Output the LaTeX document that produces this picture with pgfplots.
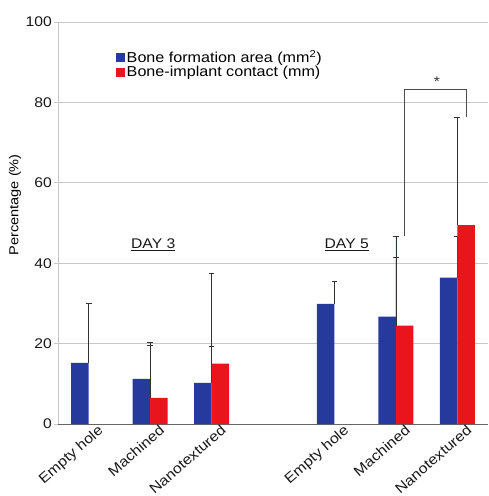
\documentclass[border=0pt]{standalone}
\usepackage{fontspec}
\setmainfont{Liberation Sans}[FakeStretch=1.12]
\usepackage{pgfplots}
\pgfplotsset{compat=1.18}
\definecolor{myblue}{RGB}{38,58,158}
\definecolor{myred}{RGB}{232,22,28}
\definecolor{gridc}{RGB}{200,200,200}
\begin{document}
\begin{tikzpicture}
\begin{axis}[
  scale only axis,
  width=430pt, height=402pt,
  xmin=-0.5, xmax=6.5, ymin=0, ymax=100,
  axis x line=bottom, axis y line=left,
  x axis line style={-, draw=gray!80!black, line width=0.8pt},
  y axis line style={-, draw=gridc, line width=0.8pt},
  xtick={0,1,2,4,5,6},
  xticklabels={Empty hole, Machined, Nanotextured, Empty hole, Machined, Nanotextured},
  xtick style={draw=none},
  ytick={0,20,40,60,80,100},
  ytick style={draw=gridc, line width=0.8pt},
  tick align=outside, major tick length=4pt,
  ymajorgrids, grid style={gridc, line width=0.8pt},
  /pgf/number format/assume math mode=true,
  tick label style={font=\fontsize{14}{16}\selectfont, text=black!90},
  xticklabel style={rotate=41, anchor=north east, inner sep=1pt, xshift=10pt, yshift=-1.5pt, font=\fontsize{14.2}{17}\selectfont},
  yticklabel style={inner sep=2pt},
  ylabel={Percentage (\%)},
  every axis y label/.style={at={(rel axis cs:0,0.545)}, xshift=-43pt, rotate=90, anchor=center, font=\fontsize{13}{15}\selectfont},
  legend style={at={(rel axis cs:0.135,0.933)}, anchor=north west, draw=none, fill=none,
    font=\fontsize{14.4}{16}\selectfont, inner sep=0pt, row sep=-1pt, nodes={inner sep=1.5pt}},
  legend cell align=left,
  legend image code/.code={\fill[#1] (0pt,-4.5pt) rectangle (9pt,4.5pt);},
  clip=false,
]
\coordinate (O) at (rel axis cs:0,0);
\addplot[ybar, bar width=17.5pt, bar shift=-8.75pt, fill=myblue, draw=none,
  error bars/.cd, y dir=plus, y explicit,
  error bar style={draw=black!80, line width=0.7pt},
  error mark options={rotate=90, draw=black!80, line width=0.7pt, mark size=2.8pt}]
  table[x=x, y=y, y error=e] {
  x y e
  0 15.2 14.8
  1 11.2 9.2
  2 10.2 9.2
  4 29.9 5.7
  5 26.7 14.8
  6 36.4 10.3
  };
\addlegendentry{Bone formation area (mm\textsuperscript{2})}
\addplot[ybar, bar width=17.5pt, bar shift=8.75pt, fill=myred, draw=none,
  error bars/.cd, y dir=plus, y explicit,
  error bar style={draw=black!80, line width=0.7pt},
  error mark options={rotate=90, draw=black!80, line width=0.7pt, mark size=2.8pt}]
  table[x=x, y=y, y error=e] {
  x y e
  1 6.5 13.1
  2 15.0 22.5
  5 24.5 22.3
  6 49.5 26.9
  };
\addlegendentry{Bone-implant contact (mm)}
\node[font=\fontsize{14}{16}\selectfont, text=black!90] at (axis cs:1.05,44.5) {\underline{DAY 3}};
\node[font=\fontsize{14}{16}\selectfont, text=black!90] at (axis cs:4.2,44.5) {\underline{DAY 5}};
\draw[black!70, line width=0.7pt] ([xshift=8.75pt]axis cs:5,46.8) -- ([xshift=8.75pt]axis cs:5,83.3) -- ([xshift=8.75pt]axis cs:6,83.3) -- ([xshift=8.75pt]axis cs:6,76.4);
\node[font=\fontsize{14}{14}\selectfont, text=black!80] at (axis cs:5.67,85.2) {*};
\end{axis}
\pgfresetboundingbox
\path[use as bounding box] ([shift={(-58pt,-72pt)}]O) rectangle ([shift={(430pt,424pt)}]O);
\end{tikzpicture}
\end{document}
